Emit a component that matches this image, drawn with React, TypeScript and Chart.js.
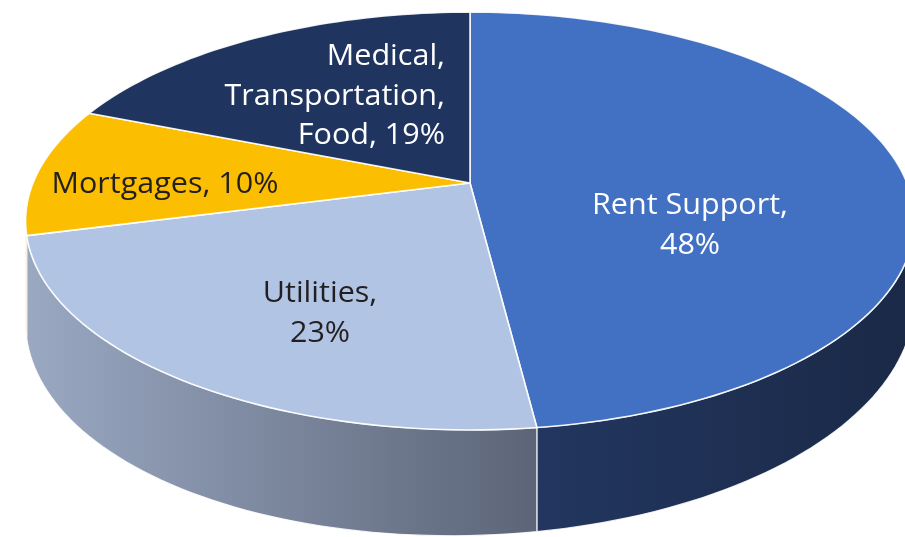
import { useEffect, useRef } from "react";
import { Chart, registerables } from "chart.js";

Chart.register(...registerables);

// ---- data ----
const categories = ["Rent Support", "Utilities", "Mortgages", "Medical, Transportation, Food"];
const percentages = [48, 23, 10, 19];
const labelLines = [
  ["Rent Support,", "48%"],
  ["Utilities,", "23%"],
  ["Mortgages, 10%"],
  ["Medical,", "Transportation,", "Food, 19%"],
];

// ---- styles ----
const topColors = ["#4270C2", "#B1C4E4", "#FCBE00", "#1F3560"];
const sideColors = [
  ["#22365F", "#1A2947"],
  ["#9AA8C2", "#5C6578"],
  ["#B88A00", "#A67C00"],
  ["#16284A", "#16284A"],
];
const textColors = ["#FFFFFF", "#231F20", "#231F20", "#FFFFFF"];
// label anchor: [x, first baseline, align]
const labelAnchors: [number, number, CanvasTextAlign][] = [
  [690, 214, "center"],
  [320, 302, "center"],
  [165, 193, "center"],
  [445, 65, "right"],
];

// perspective projection of the pie plane
const CX = 470, CY = 183, A = 437, B = 202, P = 0.182;
function proj(theta: number, bottom = false): [number, number] {
  const s = -Math.cos(theta);
  const u = Math.sin(theta);
  const w = 1 - P * s;
  const drop = bottom ? 86.5 + 19.1 * s - 11.5 * u : 0;
  return [CX + (A * u) / w, CY + (B * s) / w + drop];
}

const pie3d = {
  id: "pie3d",
  beforeDatasetsDraw(chart: any) {
    const ctx: CanvasRenderingContext2D = chart.ctx;
    const meta = chart.getDatasetMeta(0);
    const thR = Math.acos(-P);
    const thL = 2 * Math.PI - thR;
    const steps = 120;
    ctx.save();
    // walls
    meta.data.forEach((el: any, i: number) => {
      const t0 = el.startAngle + Math.PI / 2;
      const t1 = el.endAngle + Math.PI / 2;
      const a = Math.max(t0, thR);
      const b = Math.min(t1, thL);
      if (a >= b) return;
      const n = Math.max(2, Math.ceil(((b - a) / (2 * Math.PI)) * steps * 2));
      ctx.beginPath();
      for (let k = 0; k <= n; k++) {
        const t = a + ((b - a) * k) / n;
        const [x, y] = proj(t);
        if (k === 0) ctx.moveTo(x, y);
        else ctx.lineTo(x, y);
      }
      for (let k = n; k >= 0; k--) {
        const t = a + ((b - a) * k) / n;
        const [x, y] = proj(t, true);
        ctx.lineTo(x, y);
      }
      ctx.closePath();
      const xa = proj(a)[0];
      const xb = proj(b)[0];
      const g = ctx.createLinearGradient(Math.min(xa, xb), 0, Math.max(xa, xb), 0);
      const sc = sideColors[i];
      g.addColorStop(0, sc[0]);
      g.addColorStop(1, sc[1]);
      ctx.fillStyle = g;
      ctx.fill();
      ctx.strokeStyle = "rgba(255,255,255,0.85)";
      ctx.lineWidth = 1.2;
      ctx.stroke();
    });
    // top faces
    meta.data.forEach((el: any) => {
      const t0 = el.startAngle + Math.PI / 2;
      const t1 = el.endAngle + Math.PI / 2;
      const n = Math.max(2, Math.ceil(((t1 - t0) / (2 * Math.PI)) * steps * 2));
      ctx.beginPath();
      ctx.moveTo(CX, CY);
      for (let k = 0; k <= n; k++) {
        const t = t0 + ((t1 - t0) * k) / n;
        const [x, y] = proj(t);
        ctx.lineTo(x, y);
      }
      ctx.closePath();
      ctx.fillStyle = el.options.backgroundColor;
      ctx.fill();
      ctx.strokeStyle = "rgba(255,255,255,0.9)";
      ctx.lineWidth = 1.6;
      ctx.lineJoin = "round";
      ctx.stroke();
    });
    ctx.restore();
    return false;
  },
  afterDraw(chart: any) {
    const ctx: CanvasRenderingContext2D = chart.ctx;
    ctx.save();
    ctx.font = "30px 'Open Sans'";
    const ref = ctx.measureText("Rent Support,").width;
    const sx = 196 / ref;
    ctx.textBaseline = "alphabetic";
    labelLines.forEach((lines, i) => {
      const [x, y0, align] = labelAnchors[i];
      ctx.fillStyle = textColors[i];
      ctx.textAlign = align;
      lines.forEach((line, j) => {
        ctx.save();
        ctx.translate(x, y0 + j * 39.5);
        ctx.scale(sx, 1);
        ctx.fillText(line, 0, 0);
        ctx.restore();
      });
    });
    ctx.restore();
  },
};

export default function App() {
  const ref = useRef<HTMLCanvasElement | null>(null);
  useEffect(() => {
    if (!ref.current) return;
    const chart = new Chart(ref.current, {
      type: "pie",
      data: {
        labels: categories,
        datasets: [
          {
            data: percentages,
            backgroundColor: topColors,
            borderColor: "#FFFFFF",
            borderWidth: 1,
          },
        ],
      },
      options: {
        responsive: false,
        animation: false,
        rotation: 0,
        plugins: {
          legend: { display: false },
          tooltip: { enabled: false },
        },
      },
      plugins: [pie3d],
    });
    return () => chart.destroy();
  }, []);
  return (
    <div style={{ position: "fixed", left: 0, top: 0, width: 905, height: 537, background: "#fff" }}>
      <canvas ref={ref} width={905} height={537} style={{ display: "block" }} />
    </div>
  );
}
